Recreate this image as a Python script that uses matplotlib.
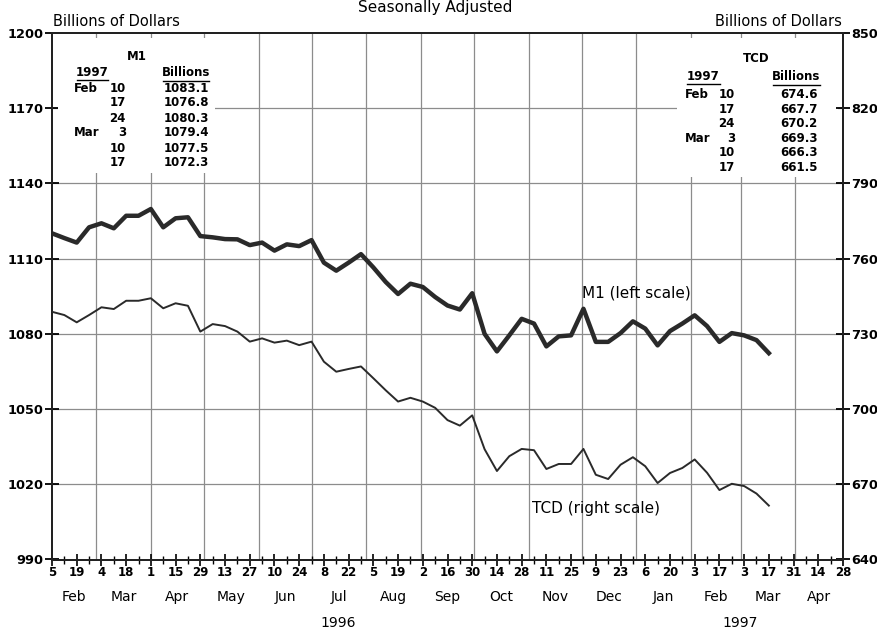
import numpy as np
import pandas as pd
import matplotlib
matplotlib.use('Agg')
import matplotlib.pyplot as plt
from matplotlib.patches import Rectangle
from matplotlib.lines import Line2D

# weekly levels, Feb 5 1996 - Mar 17 1997
weeks = pd.date_range('1996-02-05', '1997-03-17', freq='7D')

m1 = [1120.1, 1118.2, 1116.4, 1122.5, 1124.1, 1122.1, 1127.1, 1127.1, 1129.8, 1122.5,
      1126.1, 1126.5, 1119.0, 1118.5, 1117.8, 1117.7, 1115.4, 1116.4, 1113.2, 1115.7,
      1115.0, 1117.4, 1108.4, 1105.2, 1108.4, 1111.8, 1106.5, 1100.7, 1095.9, 1100.0,
      1098.7, 1094.7, 1091.3, 1089.7, 1096.2, 1080.0, 1073.0, 1079.4, 1086.0, 1084.1,
      1075.0, 1079.0, 1079.4, 1090.0, 1076.8, 1076.8, 1080.3, 1085.0, 1082.1, 1075.4,
      1081.1, 1084.1, 1087.4, 1083.1, 1076.8, 1080.3, 1079.4, 1077.5, 1072.3]

tcd = [738.8, 737.5, 734.6, 737.5, 740.6, 739.9, 743.2, 743.2, 744.2, 740.2,
       742.2, 741.2, 730.9, 733.9, 733.1, 730.9, 726.9, 728.2, 726.5, 727.3,
       725.5, 726.9, 718.9, 714.9, 716.0, 717.0, 712.3, 707.5, 703.0, 704.5,
       703.0, 700.5, 695.6, 693.4, 697.5, 684.0, 675.3, 681.2, 684.1, 683.6,
       676.1, 678.1, 678.1, 684.1, 673.8, 672.1, 677.8, 680.8, 677.2, 670.5,
       674.5, 676.5, 679.9, 674.6, 667.7, 670.2, 669.3, 666.3, 661.5]

day_labels = ['5', '19', '4', '18', '1', '15', '29', '13', '27', '10', '24', '8', '22',
              '5', '19', '2', '16', '30', '14', '28', '11', '25', '9', '23', '6', '20',
              '3', '17', '3', '17', '31', '14', '28']
month_names = ['Feb', 'Mar', 'Apr', 'May', 'Jun', 'Jul', 'Aug', 'Sep', 'Oct', 'Nov',
               'Dec', 'Jan', 'Feb', 'Mar', 'Apr']
table_months = ['Feb', '', '', 'Mar', '', '']
table_days = ['10', '17', '24', '3', '10', '17']

start = pd.Timestamp('1996-02-05')
end = pd.Timestamp('1997-04-28')

W, H = 878, 632
fig = plt.figure(figsize=(W / 100, H / 100), dpi=100)
L, R, T, B = 52, 843, 33, 559.5
ax = fig.add_axes([L / W, 1 - B / H, (R - L) / W, (B - T) / H])
ax2 = ax.twinx()

dark = '#2a2a2a'
gridc = '#8c8c8c'

ax.plot(weeks, m1, color=dark, lw=3.2, zorder=3)
ax2.plot(weeks, tcd, color=dark, lw=1.4, zorder=3)

ax.set_xlim(start, end)
ax.set_ylim(990, 1200)
ax2.set_ylim(640, 850)
ax.set_yticks(np.arange(990, 1201, 30))
ax2.set_yticks(np.arange(640, 851, 30))

# grid
for v in np.arange(1020, 1200, 30):
    ax.axhline(v, color=gridc, lw=0.9, zorder=1)
for d in pd.date_range('1996-03-01', '1997-04-01', freq='MS'):
    ax.axvline(d, color=gridc, lw=0.9, zorder=1)

# white boxes behind the tables
pw, ph = R - L, B - T
ax.add_patch(Rectangle((6 / pw, 1 - 140 / ph), (215 - L - 6) / pw, (140 - 5) / ph,
                       transform=ax.transAxes, facecolor='white', edgecolor='none', zorder=2))
ax.add_patch(Rectangle(((677 - L) / pw, 1 - 144 / ph), (838 - 677) / pw, (144 - 5) / ph,
                       transform=ax.transAxes, facecolor='white', edgecolor='none', zorder=2))

# x ticks
major = pd.date_range(start, end, freq='14D')
minor = pd.date_range(start, end, freq='7D')
ax.set_xticks(major)
ax.set_xticklabels(day_labels)
ax.set_xticks(minor, minor=True)
ax.tick_params(axis='x', which='major', direction='inout', length=9, width=1.2,
               pad=0, labelsize=8.5, colors='black')
ax.tick_params(axis='x', which='minor', direction='inout', length=6, width=1.0)
for t in ax.get_xticklabels():
    t.set_fontweight('bold')

ax.tick_params(axis='y', direction='inout', length=10, width=1.3, pad=1, labelsize=9.3)
ax2.tick_params(axis='y', direction='inout', length=10, width=1.3, pad=1, labelsize=9.3)
for t in ax.get_yticklabels() + ax2.get_yticklabels():
    t.set_fontweight('bold')

for a in (ax, ax2):
    for s in a.spines.values():
        s.set_linewidth(1.4)
        s.set_color('#222222')

# month and year labels
months = pd.date_range('1996-02-01', '1997-04-01', freq='MS')
for name, m in zip(month_names, months):
    lo = max(m, start)
    hi = min(m + pd.offsets.MonthBegin(1), end)
    mid = lo + (hi - lo) / 2
    ax.text(mid, -37.5 / ph, name, transform=ax.get_xaxis_transform(),
            ha='center', va='center', fontsize=10)
ax.text(pd.Timestamp('1996-07-16'), -63.5 / ph, '1996', transform=ax.get_xaxis_transform(),
        ha='center', va='center', fontsize=10)
ax.text(pd.Timestamp('1997-03-01'), -63.5 / ph, '1997', transform=ax.get_xaxis_transform(),
        ha='center', va='center', fontsize=10)


def ftext(x, y, s, **kw):
    fig.text(x / W, 1 - y / H, s, **kw)


def uline(x0, x1, y):
    fig.add_artist(Line2D([x0 / W, x1 / W], [1 - y / H, 1 - y / H], color='black', lw=1.0))


ftext(435, 12, 'Seasonally Adjusted', ha='center', va='baseline', fontsize=11)
ftext(53, 26, 'Billions of Dollars', ha='left', va='baseline', fontsize=10.5)
ftext(842, 26, 'Billions of Dollars', ha='right', va='baseline', fontsize=10.5)

ftext(636, 293, 'M1 (left scale)', ha='center', va='center', fontsize=11)
ftext(596, 508, 'TCD (right scale)', ha='center', va='center', fontsize=11)

# M1 table
tk = dict(fontsize=8.5, fontweight='bold', va='center')
ftext(137, 57, 'M1', ha='center', **tk)
ftext(92.5, 73, '1997', ha='center', **tk)
uline(77, 108, 80)
ftext(186, 73, 'Billions', ha='center', **tk)
uline(163, 209, 81)
for k in range(6):
    y = 88 + k * 15
    ftext(74, y, table_months[k], ha='left', **tk)
    ftext(126, y, table_days[k], ha='right', **tk)
    ftext(209, y, f'{m1[-6 + k]:.1f}', ha='right', **tk)

# TCD table
ftext(756, 58, 'TCD', ha='center', **tk)
ftext(703.5, 77, '1997', ha='center', **tk)
uline(687, 720, 84)
ftext(796.5, 77, 'Billions', ha='center', **tk)
uline(773, 820, 85)
for k in range(6):
    y = 95 + k * 14.4
    ftext(685, y, table_months[k], ha='left', **tk)
    ftext(735, y, table_days[k], ha='right', **tk)
    ftext(818, y, f'{tcd[-6 + k]:.1f}', ha='right', **tk)

fig.savefig('out.png', dpi=100)
